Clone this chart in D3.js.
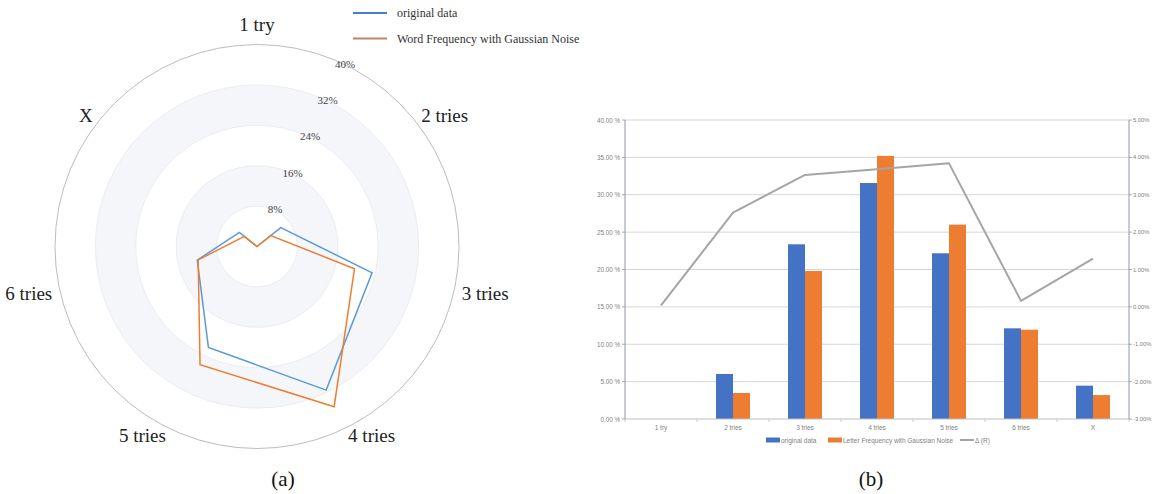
<!DOCTYPE html>
<html>
<head>
<meta charset="utf-8">
<script src="https://cdn.jsdelivr.net/npm/d3@7"></script>
<style>
  html, body { margin: 0; padding: 0; background: #fff; }
  svg { display: block; }
</style>
</head>
<body>
<svg id="chart" width="1152" height="494"></svg>
<script>
// ---------------- DATA ----------------
const categories = ["1 try", "2 tries", "3 tries", "4 tries", "5 tries", "6 tries", "X"];
const originalData = [0, 6.02, 23.37, 31.57, 22.17, 12.13, 4.46];
const noiseData = [0, 3.48, 19.80, 35.20, 26.00, 11.95, 3.20];
const deltaR = [0.04, 2.52, 3.53, 3.68, 3.84, 0.16, 1.29];
const radarTicks = [8, 16, 24, 32, 40];
const leftTicks = [0, 5, 10, 15, 20, 25, 30, 35, 40];
const rightTicks = [-3, -2, -1, 0, 1, 2, 3, 4, 5];
const radarSeriesNames = ["original data", "Word Frequency with Gaussian Noise"];
const barSeriesNames = ["original data", "Letter Frequency with Gaussian Noise", "Δ (R)"];

const svg = d3.select("#chart");
const serif = "'Liberation Serif', 'Times New Roman', serif";
const sans = "'Liberation Sans', Arial, sans-serif";

// ---------------- RADAR (a) ----------------
const cx = 257, cy = 246.5, R = 202;
const rScale = d3.scaleLinear().domain([0, 40]).range([0, R]);
const n = categories.length;
const angle = i => i * 2 * Math.PI / n;
const radar = svg.append("g");

// split areas (alternating rings)
const ringEdges = [0].concat(radarTicks);
for (let k = ringEdges.length - 2; k >= 0; k--) {
  const outer = rScale(ringEdges[k + 1]);
  radar.append("circle").attr("cx", cx).attr("cy", cy).attr("r", outer)
    .attr("fill", k % 2 === 1 ? "#f5f6fa" : "#ffffff")
    .attr("stroke", "none");
}
// split lines
radarTicks.forEach((t, i) => {
  radar.append("circle").attr("cx", cx).attr("cy", cy).attr("r", rScale(t))
    .attr("fill", "none")
    .attr("stroke", i === radarTicks.length - 1 ? "#b4b4b8" : "#e6e8ef")
    .attr("stroke-width", i === radarTicks.length - 1 ? 0.9 : 0.8);
});

// series polygons
const radarLine = d3.lineRadial().angle((d, i) => angle(i)).radius(d => rScale(d)).curve(d3.curveLinearClosed);
const radarColors = ["#5b9bd8", "#ed7d31"];
[originalData, noiseData].forEach((s, si) => {
  radar.append("path").attr("d", radarLine(s))
    .attr("transform", `translate(${cx},${cy})`)
    .attr("fill", "none").attr("stroke", radarColors[si]).attr("stroke-width", 1.5)
    .attr("stroke-linejoin", "miter");
});

// tick labels at mid-angle between first two axes
const tickAngle = Math.PI / n;
radarTicks.forEach(t => {
  const r = rScale(t) + 1;
  radar.append("text")
    .attr("x", cx + r * Math.sin(tickAngle))
    .attr("y", cy - r * Math.cos(tickAngle))
    .attr("text-anchor", "middle").attr("dominant-baseline", "central")
    .attr("font-family", serif).attr("font-size", 11).attr("fill", "#444")
    .text(t + "%");
});

// axis names
categories.forEach((c, i) => {
  const a = angle(i), Rl = 210;
  const s = Math.sin(a), co = Math.cos(a);
  radar.append("text")
    .attr("x", cx + Rl * s)
    .attr("y", cy - Rl * co - (co > 0.9 ? 12 : 0))
    .attr("text-anchor", s > 0.05 ? "start" : (s < -0.05 ? "end" : "middle"))
    .attr("dominant-baseline", "central")
    .attr("font-family", serif).attr("font-size", 19).attr("fill", "#222")
    .text(c);
});

// legend
const legColors = ["#4a7fd0", "#c08466"];
radarSeriesNames.forEach((nm, i) => {
  const y = 13 + i * 25.5;
  svg.append("line").attr("x1", 353).attr("x2", 387).attr("y1", y).attr("y2", y)
    .attr("stroke", legColors[i]).attr("stroke-width", 1.8);
  svg.append("text").attr("x", 397).attr("y", y).attr("dominant-baseline", "central")
    .attr("font-family", serif).attr("font-size", 12).attr("fill", "#333").text(nm);
});

svg.append("text").attr("x", 283).attr("y", 486).attr("text-anchor", "middle")
  .attr("font-family", serif).attr("font-size", 21).attr("fill", "#111").text("(a)");

// ---------------- BAR CHART (b) ----------------
const x0 = 625, x1 = 1129, yTop = 120, yBot = 419;
const xBand = d3.scaleBand().domain(categories).range([x0, x1]).paddingInner(0).paddingOuter(0);
const bw = xBand.bandwidth();
const barW = 17;
const xSub = d3.scaleBand().domain([0, 1]).range([bw / 2 - barW, bw / 2 + barW]).padding(0);
const yL = d3.scaleLinear().domain([0, 40]).range([yBot, yTop]);
const yR = d3.scaleLinear().domain([-3, 5]).range([yBot, yTop]);
const bar = svg.append("g");

// gridlines
bar.selectAll("line.grid").data(leftTicks.filter(t => t > 0)).join("line")
  .attr("x1", x0).attr("x2", x1).attr("y1", d => yL(d)).attr("y2", d => yL(d))
  .attr("stroke", "#d6d6d6").attr("stroke-width", 1);

// bars
const barColors = ["#4472c4", "#ed7d31"];
[originalData, noiseData].forEach((s, si) => {
  bar.selectAll("rect.s" + si).data(s).join("rect")
    .attr("x", (d, i) => xBand(categories[i]) + xSub(si))
    .attr("width", xSub.bandwidth())
    .attr("y", d => yL(d))
    .attr("height", d => yL(0) - yL(d))
    .attr("fill", barColors[si]);
});

// x axis baseline + ticks
bar.append("line").attr("x1", x0).attr("x2", x1).attr("y1", yBot).attr("y2", yBot)
  .attr("stroke", "#bfbfbf").attr("stroke-width", 1);
const bounds = categories.map(c => xBand(c)).concat([x1]);
bar.selectAll("line.xt").data(bounds).join("line")
  .attr("x1", d => d).attr("x2", d => d).attr("y1", yBot).attr("y2", yBot + 3)
  .attr("stroke", "#bfbfbf").attr("stroke-width", 0.8);
bar.selectAll("text.xl").data(categories).join("text")
  .attr("x", d => xBand(d) + bw / 2).attr("y", yBot + 8)
  .attr("text-anchor", "middle").attr("dominant-baseline", "central")
  .attr("font-family", sans).attr("font-size", 6.5).attr("fill", "#7f7f7f").text(d => d);

// line series
const lineGen = d3.line().x((d, i) => xBand(categories[i]) + bw / 2).y(d => yR(d));
bar.append("path").attr("d", lineGen(deltaR)).attr("fill", "none")
  .attr("stroke", "#a5a5a5").attr("stroke-width", 2).attr("stroke-linejoin", "round");

// left axis
bar.append("line").attr("x1", x0).attr("x2", x0).attr("y1", yTop).attr("y2", yBot)
  .attr("stroke", "#8f97ad").attr("stroke-width", 1);
bar.selectAll("line.lt").data(leftTicks).join("line")
  .attr("x1", x0 - 3).attr("x2", x0).attr("y1", d => yL(d)).attr("y2", d => yL(d))
  .attr("stroke", "#8f97ad").attr("stroke-width", 0.8);
bar.selectAll("text.ll").data(leftTicks).join("text")
  .attr("x", x0 - 5).attr("y", d => yL(d)).attr("text-anchor", "end").attr("dominant-baseline", "central")
  .attr("font-family", sans).attr("font-size", 6.3).attr("fill", "#7f7f7f")
  .text(d => d.toFixed(2) + " %");

// right axis
bar.append("line").attr("x1", x1).attr("x2", x1).attr("y1", yTop).attr("y2", yBot)
  .attr("stroke", "#8f97ad").attr("stroke-width", 1);
bar.selectAll("line.rt").data(rightTicks).join("line")
  .attr("x1", x1).attr("x2", x1 + 3).attr("y1", d => yR(d)).attr("y2", d => yR(d))
  .attr("stroke", "#8f97ad").attr("stroke-width", 0.8);
bar.selectAll("text.rl").data(rightTicks).join("text")
  .attr("x", x1 + 4).attr("y", d => yR(d)).attr("text-anchor", "start").attr("dominant-baseline", "central")
  .attr("font-family", sans).attr("font-size", 5.8).attr("fill", "#7f7f7f")
  .text(d => d.toFixed(2) + "%");

// legend
const legY = 440;
const legX = [766, 828, 960];
const legFill = ["#4472c4", "#ed7d31", "#a5a5a5"];
barSeriesNames.forEach((nm, i) => {
  if (i < 2) {
    bar.append("rect").attr("x", legX[i]).attr("y", legY - 2.5).attr("width", 14).attr("height", 5)
      .attr("fill", legFill[i]);
  } else {
    bar.append("line").attr("x1", legX[i]).attr("x2", legX[i] + 14).attr("y1", legY).attr("y2", legY)
      .attr("stroke", legFill[i]).attr("stroke-width", 2);
  }
  bar.append("text").attr("x", legX[i] + 15).attr("y", legY).attr("dominant-baseline", "central")
    .attr("font-family", sans).attr("font-size", 6.5).attr("fill", "#7f7f7f").text(nm);
});

svg.append("text").attr("x", 871).attr("y", 486).attr("text-anchor", "middle")
  .attr("font-family", serif).attr("font-size", 21).attr("fill", "#111").text("(b)");
</script>
</body>
</html>
